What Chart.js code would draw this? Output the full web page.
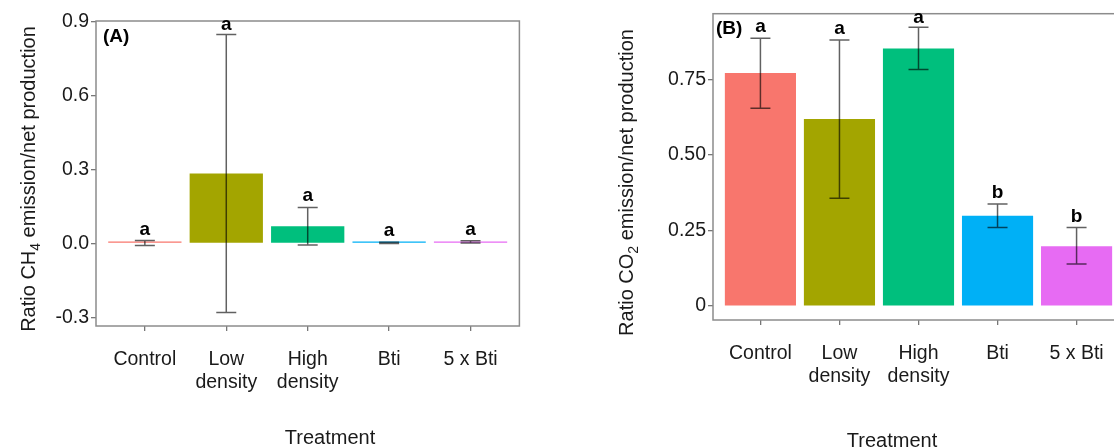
<!DOCTYPE html>
<html><head><meta charset="utf-8">
<script src="https://cdn.jsdelivr.net/npm/chart.js@4.4.1/dist/chart.umd.min.js"></script>
<style>
html,body{margin:0;padding:0;background:#fff;overflow:hidden;}
#wrap{position:relative;width:1114px;height:447px;overflow:hidden;background:#fff;}
#cA{position:absolute;left:0;top:0;}
#cB{position:absolute;left:557px;top:0;}
</style></head><body>
<div id="wrap"><canvas id="cA" width="557" height="447"></canvas><canvas id="cB" width="620" height="447"></canvas></div>
<script>
// ---- data ----
const categories = ["Control", "Low density", "High density", "Bti", "5 x Bti"];
const xTickLabels = [["Control"], ["Low", "density"], ["High", "density"], ["Bti"], ["5 x Bti"]];

const ch4Mean  = [0.002, 0.284, 0.070, 0.002, 0.006];
const ch4Lower = [-0.008, -0.280, -0.006, 0.000, 0.002];
const ch4Upper = [0.012, 0.848, 0.146, 0.005, 0.011];
const ch4Letters = ["a", "a", "a", "a", "a"];
const ch4Ticks = [-0.3, 0.0, 0.3, 0.6, 0.9];

const co2Mean  = [0.772, 0.619, 0.853, 0.299, 0.198];
const co2Lower = [0.655, 0.357, 0.783, 0.260, 0.139];
const co2Upper = [0.887, 0.881, 0.923, 0.338, 0.260];
const co2Letters = ["a", "a", "a", "b", "b"];
const co2Ticks = [0, 0.25, 0.50, 0.75];

const palette = ['#F8766D', '#A3A500', '#00BF7D', '#00B0F6', '#E76BF3'];

// ---- drawing helpers ----
const FONT = '"Liberation Sans", Arial, Helvetica, sans-serif';
const TEXT = '#1a1a1a';

function makePanel(id, cfg) {
  const annot = {
    id: 'annot_' + id,
    afterDatasetsDraw(chart) {
      const ctx = chart.ctx, xs = chart.scales.x, ys = chart.scales.y, a = chart.chartArea;
      ctx.save();
      // error bars
      ctx.strokeStyle = 'rgba(0,0,0,0.62)';
      ctx.lineWidth = 1.5;
      const capHalf = 10;
      cfg.mean.forEach((m, i) => {
        const x = xs.getPixelForValue(i);
        const yU = ys.getPixelForValue(cfg.upper[i]);
        const yL = ys.getPixelForValue(cfg.lower[i]);
        ctx.beginPath();
        ctx.moveTo(x, yU); ctx.lineTo(x, yL);
        ctx.moveTo(x - capHalf, yU); ctx.lineTo(x + capHalf, yU);
        ctx.moveTo(x - capHalf, yL); ctx.lineTo(x + capHalf, yL);
        ctx.stroke();
      });
      // frame
      ctx.strokeStyle = '#8c8c8c';
      ctx.lineWidth = 1.5;
      ctx.strokeRect(a.left, a.top, a.right - a.left, a.bottom - a.top);
      // significance letters
      ctx.fillStyle = '#000';
      ctx.font = 'bold 19px ' + FONT;
      ctx.textAlign = 'center';
      ctx.textBaseline = 'alphabetic';
      cfg.letters.forEach((L, i) => {
        const x = xs.getPixelForValue(i);
        const yU = ys.getPixelForValue(Math.max(cfg.upper[i], cfg.mean[i]));
        ctx.fillText(L, x, Math.max(yU - 6, a.top + 9));
      });
      // panel tag
      ctx.font = 'bold 19px ' + FONT;
      ctx.textAlign = 'left';
      ctx.fillText(cfg.tag, a.left + cfg.tagDx, a.top + cfg.tagDy);
      // y title with subscript
      ctx.save();
      ctx.translate(cfg.yTitleX, cfg.yTitleY);
      ctx.rotate(-Math.PI / 2);
      const mainF = '20px ' + FONT, subF = '14px ' + FONT;
      ctx.fillStyle = TEXT;
      ctx.font = mainF; const w0 = ctx.measureText(cfg.yTitle[0]).width; const w2 = ctx.measureText(cfg.yTitle[2]).width;
      ctx.font = subF; const w1 = ctx.measureText(cfg.yTitle[1]).width;
      let tx = -(w0 + w1 + w2) / 2;
      ctx.textAlign = 'left';
      ctx.font = mainF; ctx.fillText(cfg.yTitle[0], tx, 0); tx += w0;
      ctx.font = subF; ctx.fillText(cfg.yTitle[1], tx, 5); tx += w1;
      ctx.font = mainF; ctx.fillText(cfg.yTitle[2], tx, 0);
      ctx.restore();
      // x title
      ctx.fillStyle = TEXT;
      ctx.font = '20px ' + FONT;
      ctx.textAlign = 'center';
      ctx.fillText('Treatment', cfg.xTitleX, cfg.xTitleY);
      ctx.restore();
    }
  };

  return new Chart(document.getElementById(id), {
    type: 'bar',
    data: {
      datasets: [{
        data: cfg.mean.map((v, i) => ({ x: i, y: v })),
        backgroundColor: palette,
        borderWidth: 0,
        barPercentage: 0.9,
        categoryPercentage: 1.0,
        minBarLength: 2
      }]
    },
    options: {
      responsive: false,
      animation: false,
      devicePixelRatio: 1,
      layout: { padding: cfg.padding },
      plugins: { legend: { display: false }, tooltip: { enabled: false }, title: { display: false } },
      scales: {
        x: {
          type: 'linear',
          offset: false,
          min: -0.6, max: 4.6,
          afterBuildTicks: s => { s.ticks = categories.map((c, i) => ({ value: i })); },
          afterFit: s => { s.height = cfg.xAxisH; },
          ticks: {
            autoSkip: false, maxRotation: 0, minRotation: 0,
            padding: cfg.xPad,
            color: TEXT,
            font: { family: FONT, size: 19.5, lineHeight: 1.2 },
            callback: v => xTickLabels[v]
          },
          grid: { display: true, offset: false, drawOnChartArea: false, drawTicks: true, tickLength: 5, color: '#777', lineWidth: 1.3 },
          border: { display: false }
        },
        y: {
          type: 'linear',
          min: cfg.yMin, max: cfg.yMax,
          afterBuildTicks: s => { s.ticks = cfg.ticks.map(v => ({ value: v })); },
          afterFit: s => { s.width = cfg.yAxisW; },
          ticks: {
            padding: 2,
            color: TEXT,
            font: { family: FONT, size: 19.5 },
            callback: cfg.fmt
          },
          grid: { display: true, drawOnChartArea: false, drawTicks: true, tickLength: 5, color: '#777', lineWidth: 1.3 },
          border: { display: false }
        }
      }
    },
    plugins: [annot]
  });
}

makePanel('cA', {
  mean: ch4Mean, lower: ch4Lower, upper: ch4Upper, letters: ch4Letters, ticks: ch4Ticks,
  yMin: -0.335, yMax: 0.903,
  fmt: v => v.toFixed(1),
  padding: { left: 0, right: 37.6, top: 21, bottom: 0 },
  yAxisW: 96, xAxisH: 121, xPad: 17,
  tag: '(A)', tagDx: 7, tagDy: 21,
  yTitle: ['Ratio CH', '4', ' emission/net production'], yTitleX: 34.5, yTitleY: 179,
  xTitleX: 330, xTitleY: 444
});

makePanel('cB', {
  mean: co2Mean, lower: co2Lower, upper: co2Upper, letters: co2Letters, ticks: co2Ticks,
  yMin: -0.046, yMax: 0.968,
  fmt: v => (v === 0 ? '0' : v.toFixed(2)),
  padding: { left: 0, right: 53, top: 12, bottom: 0 },
  yAxisW: 156, xAxisH: 127, xPad: 16.5,
  tag: '(B)', tagDx: 3, tagDy: 20,
  yTitle: ['Ratio CO', '2', ' emission/net production'], yTitleX: 75.5, yTitleY: 182.5,
  xTitleX: 335, xTitleY: 447
});
</script>
</body></html>
